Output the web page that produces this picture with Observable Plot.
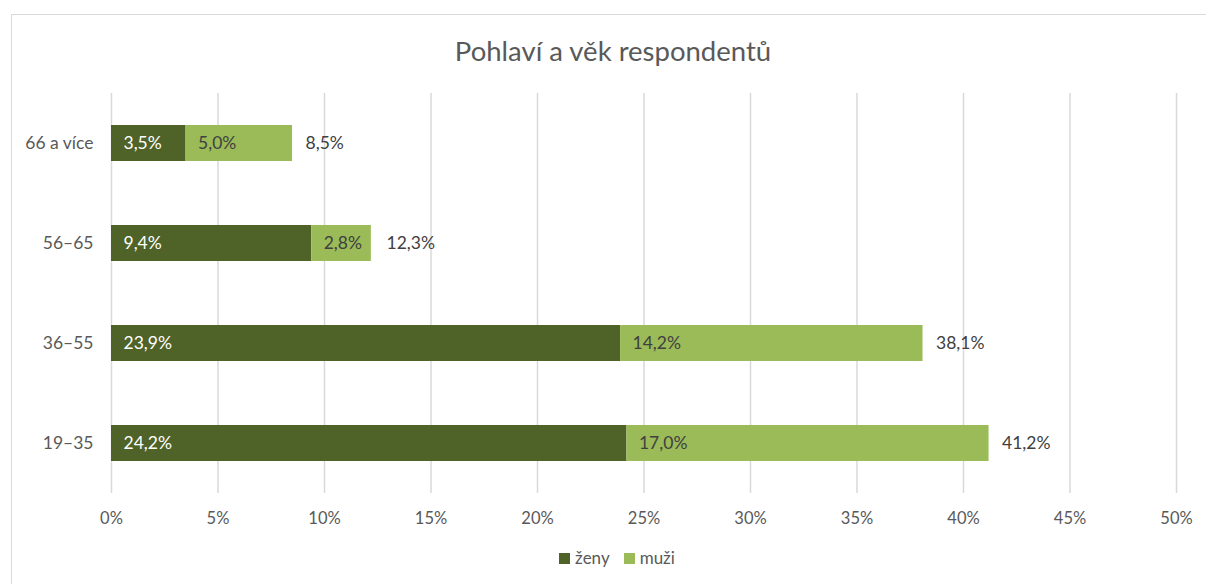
<!DOCTYPE html>
<html>
<head>
<meta charset="utf-8">
<script src="https://cdn.jsdelivr.net/npm/d3@7"></script>
<script src="https://cdn.jsdelivr.net/npm/@observablehq/plot@0.6"></script>
<style>
  html, body { margin: 0; padding: 0; background: #fff; }
  body { width: 1206px; height: 584px; position: relative; overflow: hidden; font-family: Lato, "Open Sans", sans-serif; }
  #frame { position: absolute; left: 11px; top: 14px; width: 1300px; height: 700px; border: 1.5px solid #d9d9d9; box-sizing: border-box; }
  #title { position: absolute; left: 0; top: 33px; width: 1226px; text-align: center; font-size: 27.5px; color: #595959; line-height: 36px; }
  #chart { position: absolute; left: 0; top: 80px; }
  #legend { position: absolute; left: 0; top: 547px; width: 1234px; text-align: center; font-size: 17px; color: #595959; line-height: 22px; }
  .sw { display: inline-block; width: 11px; height: 11px; margin-right: 5px; vertical-align: 0px; }
  .item { display: inline-block; margin: 0 7px; }
</style>
</head>
<body>
<div id="frame"></div>
<div id="title">Pohlaví a věk respondentů</div>
<div id="chart"></div>
<div id="legend"></div>
<script>
const categories = ["66 a více", "56–65", "36–55", "19–35"];
const zeny = [3.5, 9.4, 23.9, 24.2];
const muzi = [5.0, 2.8, 14.2, 17.0];
const totals = [8.5, 12.3, 38.1, 41.2];
const xTicks = [0, 5, 10, 15, 20, 25, 30, 35, 40, 45, 50];
const seriesNames = ["ženy", "muži"];
const seriesColors = ["#4f6228", "#9bbb59"];

const rows = [
  ...categories.map((c, i) => ({cat: c, sex: "ženy", value: zeny[i]})),
  ...categories.map((c, i) => ({cat: c, sex: "muži", value: muzi[i]}))
];
const totalRows = categories.map((c, i) => ({cat: c, total: totals[i]}));
const fmt = v => v.toFixed(1).replace(".", ",") + "%";

const plot = Plot.plot({
  width: 1206,
  height: 450,
  marginLeft: 111,
  marginRight: 30,
  marginTop: 13,
  marginBottom: 37,
  style: {fontFamily: "Lato, 'Open Sans', sans-serif", fontSize: "16px", color: "#595959", background: "transparent"},
  x: {domain: [0, 50], ticks: xTicks, tickFormat: d => d + "%", label: null},
  y: {domain: categories, paddingInner: 0.64, paddingOuter: 0.32, label: null},
  color: {domain: seriesNames, range: seriesColors},
  marks: [
    Plot.gridX(xTicks, {stroke: "#d9d9d9", strokeOpacity: 1, strokeWidth: 1.5}),
    Plot.barX(rows, Plot.stackX({x: "value", y: "cat", fill: "sex", z: "sex"})),
    Plot.text(rows, Plot.stackX1({x: "value", y: "cat", z: "sex", text: d => fmt(d.value),
      textAnchor: "start", dx: 12, fontSize: 17.5,
      fill: d => d.sex === "ženy" ? "#ffffff" : "#404040"})),
    Plot.text(totalRows, {x: "total", y: "cat", text: d => fmt(d.total), textAnchor: "start", dx: 13, fontSize: 17.5, fill: "#404040"}),
    Plot.axisX({ticks: xTicks, tickFormat: d => d + "%", tickSize: 0, tickPadding: 19, fontSize: 16.5, fill: "#595959", label: null}),
    Plot.axisY({tickSize: 0, tickPadding: 18, fontSize: 17.5, fill: "#595959", label: null})
  ]
});
document.getElementById("chart").appendChild(plot);

const legend = document.getElementById("legend");
seriesNames.forEach((n, i) => {
  const item = document.createElement("span");
  item.className = "item";
  item.innerHTML = `<span class="sw" style="background:${seriesColors[i]}"></span>${n}`;
  legend.appendChild(item);
});
</script>
</body>
</html>
